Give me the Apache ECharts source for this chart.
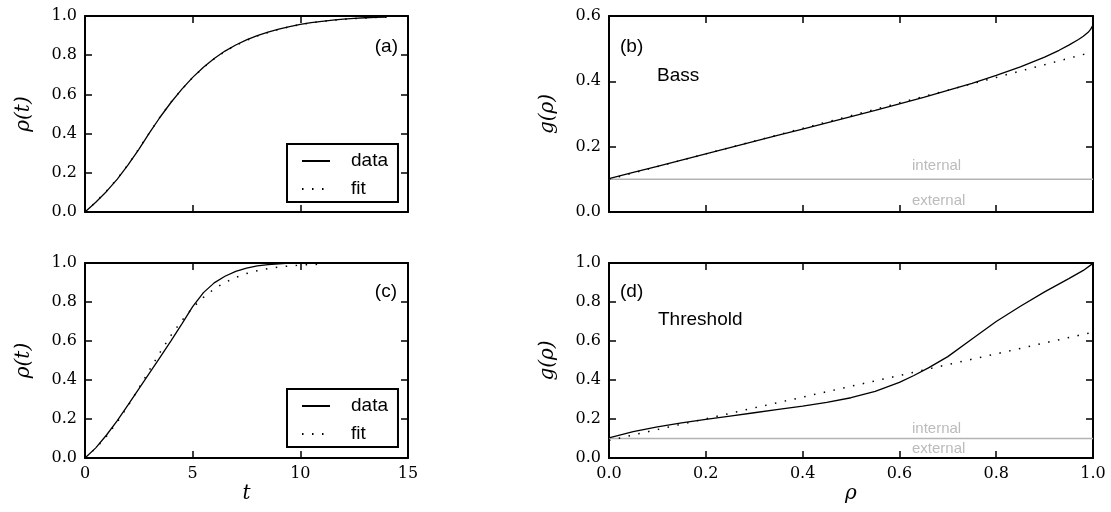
<!DOCTYPE html>
<html>
<head>
<meta charset="utf-8">
<script src="https://cdn.jsdelivr.net/npm/echarts@6/dist/echarts.min.js"></script>
<style>
  html, body { margin: 0; padding: 0; background: #fff; }
  #chart { width: 1111px; height: 512px; }
</style>
</head>
<body>
<div id="chart"></div>
<script>
// ---- panel (a): Bass diffusion, rho(t) ----
const tA = [0,0.5,1,1.5,2,2.5,3,3.5,4,4.5,5,5.5,6,6.5,7,7.5,8,8.5,9,9.5,10,10.5,11,11.5,12,12.5,13,13.5,14];
const rhoDataA = [0,0.050,0.105,0.168,0.240,0.320,0.405,0.486,0.560,0.627,0.687,0.739,0.783,0.821,0.852,0.878,0.900,0.918,0.933,0.946,0.957,0.966,0.973,0.979,0.984,0.988,0.991,0.993,0.995];
const rhoFitA  = [0,0.051,0.107,0.170,0.242,0.322,0.406,0.487,0.561,0.627,0.686,0.737,0.781,0.819,0.850,0.876,0.898,0.916,0.932,0.945,0.956,0.965,0.972,0.978,0.983,0.987,0.990,0.992,0.994];

// ---- panel (c): threshold model, rho(t) ----
const tDataC = [0,0.5,1,1.5,2,2.5,3,3.5,4,4.5,5,5.5,6,6.5,7,7.5,8,8.5,9,9.5,10];
const rhoDataC = [0,0.052,0.118,0.192,0.272,0.354,0.437,0.519,0.602,0.688,0.776,0.848,0.898,0.932,0.957,0.974,0.985,0.992,0.996,0.999,1.0];
const tFitC = [0,0.5,1,1.5,2,2.5,3,3.5,4,4.5,5,5.5,6,6.5,7,7.5,8,8.5,9,9.5,10,10.5,11];
const rhoFitC = [0,0.050,0.112,0.185,0.268,0.358,0.452,0.544,0.630,0.705,0.771,0.824,0.867,0.900,0.926,0.946,0.960,0.971,0.979,0.985,0.989,0.992,0.994];

// ---- panel (b): Bass, g(rho) ----
const rhoDataB = [0,0.05,0.1,0.15,0.2,0.25,0.3,0.35,0.4,0.45,0.5,0.55,0.6,0.65,0.7,0.75,0.8,0.85,0.9,0.93,0.95,0.97,0.98,0.99,0.995,1.0];
const gDataB = [0.102,0.121,0.140,0.159,0.178,0.197,0.216,0.235,0.254,0.273,0.292,0.311,0.331,0.351,0.372,0.394,0.418,0.444,0.474,0.495,0.511,0.528,0.538,0.550,0.559,0.572];
const rhoFitB = [0,0.1,0.2,0.3,0.4,0.5,0.6,0.7,0.8,0.9,1.0];
const gFitB = [0.100,0.139,0.178,0.217,0.256,0.295,0.334,0.373,0.412,0.451,0.490];

// ---- panel (d): threshold, g(rho) ----
const rhoDataD = [0,0.05,0.1,0.15,0.2,0.25,0.3,0.35,0.4,0.45,0.5,0.55,0.6,0.63,0.66,0.7,0.75,0.8,0.85,0.9,0.95,0.98,1.0];
const gDataD = [0.103,0.135,0.160,0.180,0.198,0.215,0.232,0.249,0.266,0.285,0.309,0.342,0.388,0.423,0.462,0.520,0.610,0.700,0.778,0.852,0.920,0.962,0.998];
const rhoFitD = [0,0.1,0.2,0.3,0.4,0.5,0.6,0.7,0.8,0.9,1.0];
const gFitD = [0.090,0.146,0.201,0.257,0.312,0.368,0.423,0.479,0.534,0.590,0.645];

// ---- internal / external split level ----
const splitRho = [0, 1];
const splitG = [0.1, 0.1];

const pairs = (xs, ys) => xs.map((x, i) => [x, ys[i]]);

const SERIF = "'DejaVu Serif', 'Liberation Serif', serif";
const SANS = "'Liberation Sans', Arial, sans-serif";

const grids = [
  { left: 85,  top: 16,  width: 323, height: 196 },  // (a)
  { left: 609, top: 16,  width: 484, height: 196 },  // (b)
  { left: 85,  top: 263, width: 323, height: 195 },  // (c)
  { left: 609, top: 263, width: 484, height: 195 }   // (d)
];

const frameLine = { show: true, onZero: false, lineStyle: { color: '#000', width: 2 } };
const inTicks = { show: true, inside: true, length: 7, lineStyle: { color: '#000', width: 1.5 } };
const tickFont = { fontFamily: SERIF, fontSize: 16, color: '#000' };
const nameFont = { fontFamily: SERIF, fontStyle: 'italic', fontSize: 20, color: '#000' };

const xAxes = [], yAxes = [];
function addAxes(gi, xr, yr, showX, xName, yName) {
  const base = (pos, r) => ({
    type: 'value', gridIndex: gi, position: pos, min: r[0], max: r[1], interval: r[2],
    axisLine: frameLine, axisTick: inTicks, splitLine: { show: false }
  });
  xAxes.push(Object.assign(base('bottom', xr), {
    axisLabel: Object.assign({ show: showX, margin: 8,
      formatter: v => xr[3] ? v.toFixed(xr[3]) : String(v) }, tickFont),
    name: xName, nameLocation: 'middle', nameGap: 26, nameTextStyle: nameFont
  }));
  xAxes.push(Object.assign(base('top', xr), { axisLabel: { show: false } }));
  yAxes.push(Object.assign(base('left', yr), {
    axisLabel: Object.assign({ show: true, margin: 8, formatter: v => v.toFixed(1) }, tickFont),
    name: yName, nameLocation: 'middle', nameRotate: 90, nameGap: 51, nameTextStyle: nameFont
  }));
  yAxes.push(Object.assign(base('right', yr), { axisLabel: { show: false } }));
}
addAxes(0, [0, 15, 5, 0], [0, 1, 0.2], false, '', 'ρ(t)');
addAxes(1, [0, 1, 0.2, 1], [0, 0.6, 0.2], false, '', 'g(ρ)');
addAxes(2, [0, 15, 5, 0], [0, 1, 0.2], true, 't', 'ρ(t)');
addAxes(3, [0, 1, 0.2, 1], [0, 1, 0.2], true, 'ρ', 'g(ρ)');

const dataStyle = { color: '#000', width: 1.3, type: 'solid' };
const fitStyle = { color: '#000', width: 1.5, type: [1.5, 8.5] };
const grayStyle = { color: '#b3b3b3', width: 1.5, type: 'solid' };

function line(name, gi, pts, style, z) {
  return {
    type: 'line', name, xAxisIndex: gi * 2, yAxisIndex: gi * 2, data: pts,
    symbol: 'none', showSymbol: false, smooth: false, clip: true,
    lineStyle: style, itemStyle: { color: '#000' }, z: z, silent: true
  };
}
function note(gi, pts, texts) {
  return {
    type: 'scatter', xAxisIndex: gi * 2, yAxisIndex: gi * 2, symbolSize: 0, silent: true, z: 4,
    data: pts.map((p, i) => ({ value: p, label: { formatter: texts[i] } })),
    label: { show: true, position: 'right', distance: 0,
      fontFamily: SANS, fontSize: 15, color: '#aaaaaa' }
  };
}

const series = [
  line('split', 1, pairs(splitRho, splitG), grayStyle, 1),
  line('split', 3, pairs(splitRho, splitG), grayStyle, 1),
  note(1, [[0.626, 0.14], [0.626, 0.035]], ['internal', 'external']),
  note(3, [[0.626, 0.15], [0.626, 0.045]], ['internal', 'external']),
  line('data', 0, pairs(tA, rhoDataA), dataStyle, 3),
  line('fit', 0, pairs(tA, rhoFitA), fitStyle, 3),
  line('data', 2, pairs(tDataC, rhoDataC), dataStyle, 3),
  line('fit', 2, pairs(tFitC, rhoFitC), fitStyle, 3),
  line('data', 1, pairs(rhoDataB, gDataB), dataStyle, 3),
  line('fit', 1, pairs(rhoFitB, gFitB), fitStyle, 3),
  line('data', 3, pairs(rhoDataD, gDataD), dataStyle, 3),
  line('fit', 3, pairs(rhoFitD, gFitD), fitStyle, 3)
];

const legendBase = {
  orient: 'vertical', data: ['data', 'fit'], selectedMode: false,
  itemWidth: 28, itemHeight: 14, itemGap: 8, padding: [7, 10, 3, 14],
  borderColor: '#000', borderWidth: 2, borderRadius: 0, backgroundColor: '#fff',
  itemStyle: { opacity: 0 },
  lineStyle: { opacity: 1 },
  textStyle: { fontFamily: SANS, fontSize: 19, color: '#000', lineHeight: 20, padding: [0, 0, 0, 16] }
};
const legends = [
  Object.assign({ left: 287, top: 144 }, legendBase),
  Object.assign({ left: 287, top: 389 }, legendBase)
];

const labelText = (x, y, text, align) => ({
  type: 'text', x, y, z: 10,
  style: { text, fontFamily: SANS, fontSize: 19, fill: '#000', align: align, verticalAlign: 'middle' }
});

const chart = echarts.init(document.getElementById('chart'), null, { renderer: 'canvas' });
chart.setOption({
  animation: false,
  backgroundColor: '#fff',
  grid: grids.map(g => Object.assign({ containLabel: false }, g)),
  xAxis: xAxes,
  yAxis: yAxes,
  legend: legends,
  series,
  graphic: [
    labelText(398, 47, '(a)', 'right'),
    labelText(397, 292, '(c)', 'right'),
    labelText(620, 47, '(b)', 'left'),
    labelText(620, 292, '(d)', 'left'),
    labelText(657, 76, 'Bass', 'left'),
    labelText(658, 320, 'Threshold', 'left')
  ]
});
</script>
</body>
</html>
